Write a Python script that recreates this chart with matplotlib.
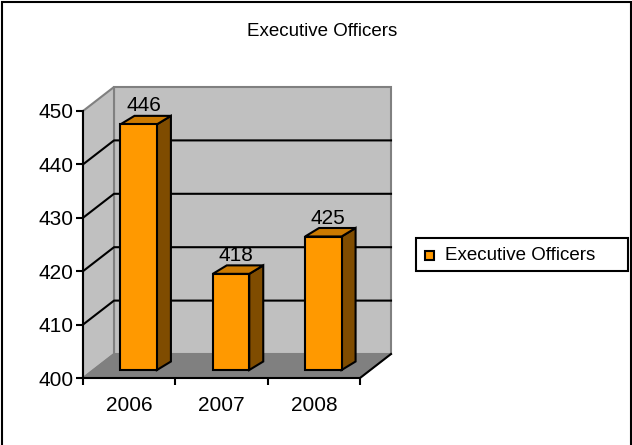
import matplotlib
matplotlib.use('Agg')
import matplotlib.pyplot as plt
from matplotlib.patches import Polygon, Rectangle

plt.rcParams['font.family'] = ['Liberation Sans', 'DejaVu Sans']

years = ['2006', '2007', '2008']
officers = [446, 418, 425]
y_ticks = [400, 410, 420, 430, 440, 450]
title = 'Executive Officers'

W, H = 632, 445
ORANGE = '#FF9900'
TOP = '#CC7A00'
SIDE = '#7F4C00'
WALL = '#C0C0C0'
FLOOR = '#808080'
EDGE = '#808080'

fig = plt.figure(figsize=(W / 100, H / 100), dpi=100)
fig.patch.set_facecolor('white')

# frame round the whole chart
fig.add_artist(Rectangle((1.5 / W, -5 / H), (W - 3) / W, (H + 3.5) / H, transform=fig.transFigure,
                         fill=False, edgecolor='black', linewidth=1.5))

# axes = the front plane of the fake 3d box
left, right, bottom, top = 83, 360, 378, 111
ax = fig.add_axes([left / W, 1 - bottom / H, (right - left) / W, (bottom - top) / H])
ax.set_xlim(0, 3)
ax.set_ylim(400, 450)
ax.patch.set_visible(False)

px_x = 3 / (right - left)
px_y = 50 / (bottom - top)
dx = 31 * px_x
dy = 24 * px_y


def poly(pts, fc, ec='none', lw=1.5, z=1):
    ax.add_patch(Polygon(pts, closed=True, facecolor=fc, edgecolor=ec, linewidth=lw,
                         zorder=z, clip_on=False, joinstyle='miter'))


# walls and floor
poly([(dx, 400 + dy), (3 + dx, 400 + dy), (3 + dx, 450 + dy), (dx, 450 + dy)], WALL, EDGE, 1.5)
poly([(0, 400), (dx, 400 + dy), (dx, 450 + dy), (0, 450)], WALL, EDGE, 1.5)
poly([(0, 400), (3, 400), (3 + dx, 400 + dy), (dx, 400 + dy)], FLOOR, EDGE, 1.0)

# gridlines along side wall and back wall
for t in y_ticks[1:-1]:
    ax.plot([0, dx, 3 + dx], [t, t + dy, t + dy], color='black', lw=1.5, zorder=2, clip_on=False)

# front edges of the floor, drawn after it
ax.plot([0, 3, 3 + dx], [400, 400, 400 + dy], color='black', lw=1.5, zorder=3, clip_on=False)
ax.plot([0, 0], [400, 450], color='black', lw=1.5, zorder=3, clip_on=False)

# bars
bar_w = 0.395
bar_off = 0.603
bar_base = 8 * px_y
bar_dx = 14 * px_x
bar_dy = 8.5 * px_y
xs = [i + bar_off for i in range(len(officers))]
ax.bar(xs, [v - 400 for v in officers], bottom=400 + bar_base, width=bar_w, color=ORANGE,
       edgecolor='black', linewidth=1.5, zorder=5, clip_on=False)
for x, v in zip(xs, officers):
    x0, x1 = x - bar_w / 2, x + bar_w / 2
    y0, y1 = 400 + bar_base, v + bar_base
    poly([(x1, y0), (x1 + bar_dx, y0 + bar_dy), (x1 + bar_dx, y1 + bar_dy), (x1, y1)], SIDE, 'black', 1.5, 4)
    poly([(x0, y1), (x0 + bar_dx, y1 + bar_dy), (x1 + bar_dx, y1 + bar_dy), (x1, y1)], TOP, 'black', 1.5, 4)
    ax.text(x + 5 * px_x, y1 + 9 * px_y, str(v), ha='center', va='bottom', fontsize=15, color='black',
            zorder=6, clip_on=False)

# axes, ticks and labels
for s in ax.spines.values():
    s.set_visible(False)
ax.set_yticks(y_ticks)
ax.set_xticks(range(4))
ax.set_xticklabels([])
ax.set_xticks([i + 0.5 for i in range(3)], minor=True)
ax.set_xticklabels(years, minor=True)
ax.tick_params(axis='y', labelsize=15, length=5, width=1.5, pad=2)
ax.tick_params(axis='x', which='major', length=5, width=1.5)
ax.tick_params(axis='x', which='minor', labelsize=15, length=0, pad=13)

fig.text(322.5 / W, 1 - 31 / H, title, ha='center', va='center', fontsize=13.5)

# legend box by hand to hit the same spot
fig.add_artist(Rectangle((416 / W, 1 - 271 / H), 212 / W, 33 / H, transform=fig.transFigure,
                         facecolor='white', edgecolor='black', linewidth=1.5))
fig.add_artist(Rectangle((425 / W, 1 - 260 / H), 9 / W, 9 / H, transform=fig.transFigure,
                         facecolor=ORANGE, edgecolor='black', linewidth=1.5))
fig.text(445 / W, 1 - 255.5 / H, title, ha='left', va='center', fontsize=13.5)

fig.savefig('out.png', dpi=100)
